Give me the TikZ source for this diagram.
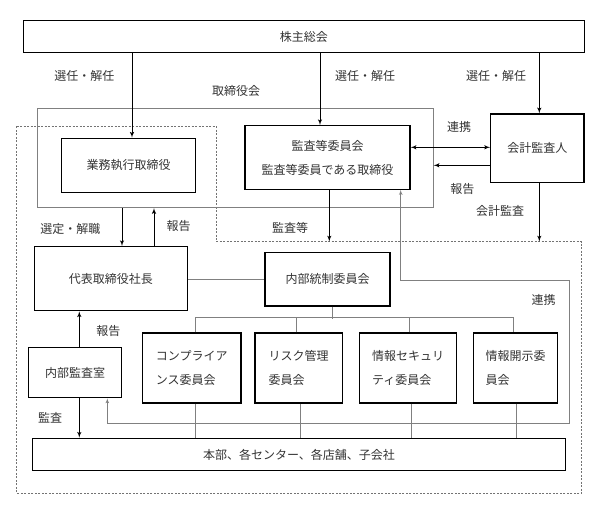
\documentclass[tikz,border=0pt]{standalone}
\usepackage{fontspec}
\setmainfont{Noto Sans CJK JP}
\usepackage{tikz}
\usetikzlibrary{arrows}

\begin{document}
\begin{tikzpicture}[x=1pt,y=-1pt,font=\fontsize{12}{24}\selectfont]
    \tikzset{box/.style = {shape=rectangle,draw,line width=1.2pt,inner sep=0pt,text=black!80}}
    \tikzset{committee/.style = {minimum height=70pt,align=left}}
    \tikzset{flow/.style = {->,> = latex',line width=1pt}}
    \tikzset{link/.style = {draw=black!50,line width=0.7pt}}
    \tikzset{note/.style = {text=black!80,inner sep=0pt}}
    \useasboundingbox (0,0) rectangle (607,517);
    % dashed area
    \coordinate (dc) at (216,241.5);
    \coordinate (lk) at (569.3,280);
    \draw[black!55,line width=0.8pt,dash pattern=on 2pt off 1.5pt] (16.7,126) -- (216,126) -- (dc) -- (581.7,241.5) -- (581.7,493) -- (16.7,493) -- cycle;
    % vertices
    \node[box,minimum width=561pt,minimum height=32pt] (share) at (303.8,36.7) {株主総会};
    \node[draw=black!50,line width=0.7pt,minimum width=395.6pt,minimum height=99.2pt,inner sep=0pt] (board) at (235.5,158.1) {};
    \node[box,minimum width=134pt,minimum height=54pt] (exec) at (128.7,165.3) {業務執行取締役};
    \node[box,minimum width=165pt,minimum height=63.6pt,align=center] (audit) at (327.5,157.5) {監査等委員会\\監査等委員である取締役};
    \node[box,minimum width=93.3pt,minimum height=68.7pt] (acct) at (537.3,148.3) {会計監査人};
    \node[box,minimum width=153pt,minimum height=64pt] (ceo) at (110.8,278.7) {代表取締役社長};
    \node[box,minimum width=125pt,minimum height=53.3pt] (ic) at (327.5,279.3) {内部統制委員会};
    \node[box,minimum width=93.4pt,minimum height=50.4pt] (ia) at (75,372.5) {内部監査室};
    \node[box,committee,minimum width=98.3pt] (comp) at (191.8,368) {コンプライア\\ンス委員会};
    \node[box,committee,minimum width=87.3pt] (risk) at (298.7,368) {リスク管理\\委員会};
    \node[box,committee,minimum width=97.4pt] (sec) at (408,368) {情報セキュリ\\ティ委員会};
    \node[box,committee,minimum width=84.4pt] (disc) at (515.5,368) {情報開示委\\員会};
    \node[box,minimum width=533.4pt,minimum height=32.4pt] (hq) at (299,454.5) {本部、各センター、各店舗、子会社};
    % labels
    \node[note] (sel1) at (84.3,76) {選任・解任};
    \node[note] (sel2) at (365,76) {選任・解任};
    \node[note] (sel3) at (496.2,76) {選任・解任};
    \node[note] (bd) at (236,90.7) {取締役会};
    \node[note] (co1) at (459,127) {連携};
    \node[note] (rep1) at (462.3,189.3) {報告};
    \node[note] (aud1) at (500.2,210.7) {会計監査};
    \node[note] (aud2) at (290,228.3) {監査等};
    \node[note] (dis) at (70.3,229.3) {選定・解職};
    \node[note] (rep2) at (178.7,226) {報告};
    \node[note] (rep3) at (108.3,330.7) {報告};
    \node[note] (aud3) at (50,418.3) {監査};
    \node[note] (co2) at (543.5,300) {連携};
    %edges
    \draw[flow] ([xshift=3.3pt]exec.north |- share.south) -- ([xshift=3.3pt]exec.north);
    \draw[flow] ([xshift=-7.5pt]audit.north |- share.south) -- ([xshift=-7.5pt]audit.north);
    \draw[flow] ([xshift=2pt]acct.north |- share.south) -- ([xshift=2pt]acct.north);
    \draw[flow] ([xshift=11.2pt]ceo.north |- board.south) -- ([xshift=11.2pt]ceo.north);
    \draw[flow] ([xshift=43.2pt]ceo.north) -- ([xshift=43.2pt]ceo.north |- board.south);
    \draw[flow,<->] ([yshift=10.2pt]audit.east) -- ([yshift=10.2pt]audit.east -| acct.west);
    \draw[flow] ([yshift=-17pt]acct.west) -- ([yshift=-17pt]acct.west -| board.east);
    \draw[flow] ([xshift=1.8pt]audit.south) -- ([xshift=1.8pt]audit.south |- dc);
    \draw[flow] ([xshift=2pt]acct.south) -- ([xshift=2pt]acct.south |- dc);
    \draw[flow] ([xshift=4.3pt]ia.north) -- ([xshift=4.3pt]ia.north |- ceo.south);
    \draw[flow] ([xshift=4.3pt]ia.south) -- ([xshift=4.3pt]ia.south |- hq.north);
    % thin lines
    \draw[link] (ic.west -| ceo.east) -- (ic.west);
    \draw[link] ([xshift=4.8pt]ic.south) -- ++(0,12.3);
    \draw[link] ([xshift=3.2pt]comp.north) -- ++(0,-14.7) -| ([xshift=-2.2pt]disc.north);
    \draw[link] ([xshift=-2pt]risk.north) -- ++(0,-14.7);
    \draw[link] ([xshift=1pt]sec.north) -- ++(0,-14.7);
    \draw[link] ([xshift=3.2pt]comp.south) -- ([xshift=3.2pt]comp.south |- hq.north);
    \draw[link] ([xshift=1.3pt]risk.south) -- ([xshift=1.3pt]risk.south |- hq.north);
    \draw[link] ([xshift=3pt]sec.south) -- ([xshift=3pt]sec.south |- hq.north);
    \draw[link] ([xshift=1.2pt]disc.south) -- ([xshift=1.2pt]disc.south |- hq.north);
    \draw[link,<->,>=latex'] ([xshift=32.3pt]ia.south) -- ++(0,24.6) -| (lk) -| ([xshift=73.2pt]audit.south);
\end{tikzpicture}
\end{document}
